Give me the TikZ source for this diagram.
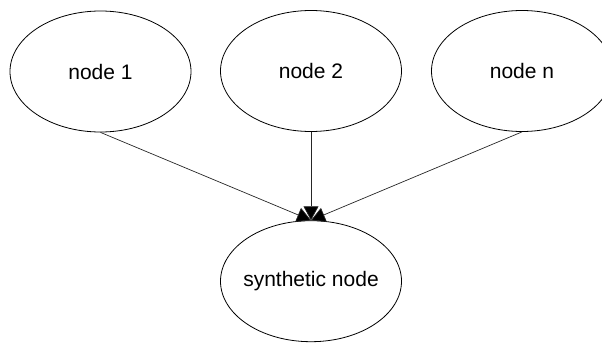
\documentclass[tikz,border=0pt]{standalone}
\usepackage{fontspec}
\setmainfont{Liberation Sans}
\usetikzlibrary{shapes.geometric,arrows.meta}
% label of fixed-size ellipse: zero-width box so the shape keeps its size
\newcommand{\vlabel}[1]{\makebox[0pt]{#1}}
\begin{document}
\begin{tikzpicture}[x=1pt,y=-1pt,
  vertex/.style={ellipse,draw,line width=0.8pt,minimum width=181pt,minimum height=121pt,inner sep=0pt,font=\fontsize{21pt}{25pt}\selectfont},
  link/.style={line width=0.7pt,draw=black!85,-{Triangle[length=14pt,width=15pt,fill=black]}}]
  \clip (0,0) rectangle (602,343);
  \useasboundingbox (0,0) rectangle (602,343);
  \node[vertex] (n1) at (100.5,71.5) {\vlabel{node 1}};
  \node[vertex] (n2) at (311,71) {\vlabel{node 2}};
  \node[vertex] (nn) at (522,71) {\vlabel{node n}};
  \node[vertex] (syn) at (311,281.2) {\vlabel{synthetic node}};
  \draw[link] (n1.south) -- (syn.north);
  \draw[link] (n2.south) -- (syn.north);
  \draw[link] (nn.south) -- (syn.north);
\end{tikzpicture}
\end{document}
